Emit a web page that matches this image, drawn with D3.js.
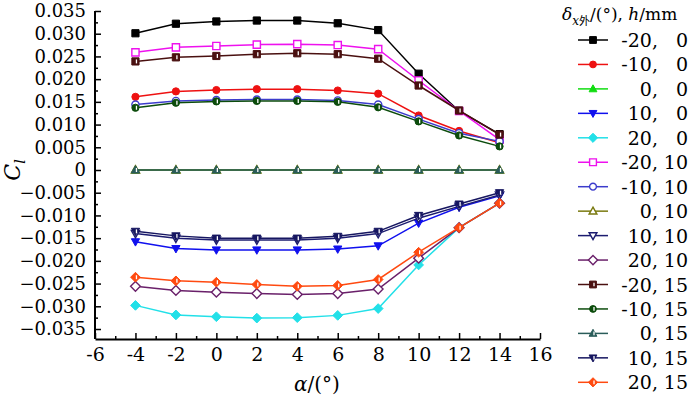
<!DOCTYPE html>
<html>
<head>
<meta charset="utf-8">
<script src="https://cdn.jsdelivr.net/npm/d3@7"></script>
<style>
  html, body { margin: 0; padding: 0; background: #fff; }
  svg { display: block; }
  svg text { font-family: "DejaVu Serif", serif; fill: #000; }
</style>
</head>
<body>
<svg id="chart" width="700" height="396"></svg>
<script>
// ---------- data ----------
const alpha = [-4, -2, 0, 2, 4, 6, 8, 10, 12, 14];

const deltaLabels = ["-20,", "-10,", "0,", "10,", "20,", "-20,", "-10,", "0,", "10,", "20,", "-20,", "-10,", "0,", "10,", "20,"];
const hLabels     = ["0", "0", "0", "0", "0", "10", "10", "10", "10", "10", "15", "15", "15", "15", "15"];

const s_m20_0  = [0.0301, 0.0322, 0.0327, 0.0329, 0.0329, 0.0323, 0.0308, 0.0212, 0.0130, 0.0079];
const s_m10_0  = [0.0161, 0.0173, 0.0176, 0.0178, 0.0178, 0.0175, 0.0168, 0.0120, 0.0086, 0.0060];
const s_0_0    = [0, 0, 0, 0, 0, 0, 0, 0, 0, 0];
const s_10_0   = [-0.0158, -0.0173, -0.0176, -0.0176, -0.0176, -0.0174, -0.0167, -0.0117, -0.0082, -0.0057];
const s_20_0   = [-0.0298, -0.0319, -0.0323, -0.0326, -0.0325, -0.0320, -0.0305, -0.0209, -0.0127, -0.0073];
const s_m20_10 = [0.0259, 0.0270, 0.0273, 0.0276, 0.0277, 0.0275, 0.0266, 0.0197, 0.0130, 0.0067];
const s_m10_10 = [0.0144, 0.0152, 0.0154, 0.0155, 0.0155, 0.0153, 0.0144, 0.0112, 0.0081, 0.0063];
const s_0_10   = [0, 0, 0, 0, 0, 0, 0, 0, 0, 0];
const s_10_10  = [-0.0140, -0.0150, -0.0154, -0.0154, -0.0154, -0.0150, -0.0140, -0.0106, -0.0080, -0.0055];
const s_20_10  = [-0.0256, -0.0265, -0.0269, -0.0272, -0.0274, -0.0272, -0.0262, -0.0194, -0.0127, -0.0073];
const s_m20_15 = [0.0239, 0.0248, 0.0251, 0.0255, 0.0257, 0.0255, 0.0245, 0.0186, 0.0131, 0.0078];
const s_m10_15 = [0.0137, 0.0148, 0.0151, 0.0152, 0.0152, 0.0150, 0.0138, 0.0107, 0.0076, 0.0052];
const s_0_15   = [0, 0, 0, 0, 0, 0, 0, 0, 0, 0];
const s_10_15  = [-0.0135, -0.0145, -0.0150, -0.0150, -0.0150, -0.0146, -0.0135, -0.0100, -0.0075, -0.0050];
const s_20_15  = [-0.0236, -0.0244, -0.0247, -0.0252, -0.0256, -0.0254, -0.0241, -0.0181, -0.0127, -0.0073];

const seriesValues = [s_m20_0, s_m10_0, s_0_0, s_10_0, s_20_0,
                      s_m20_10, s_m10_10, s_0_10, s_10_10, s_20_10,
                      s_m20_15, s_m10_15, s_0_15, s_10_15, s_20_15];

const colors  = ["#000000", "#ee1111", "#11dd11", "#1010ee", "#22e0e8",
                 "#ee11ee", "#3c3ccc", "#7a7a10", "#1c1c70", "#6a206a",
                 "#4a1010", "#0c4c0c", "#2a5c5a", "#161660", "#ff4a10"];
const shapes  = ["square", "circle", "up", "down", "diamond",
                 "square", "circle", "up", "down", "diamond",
                 "square", "circle", "up", "down", "diamond"];
const fills   = ["full", "full", "full", "full", "full",
                 "open", "open", "open", "open", "open",
                 "half", "half", "half", "half", "half"];

const xTicks = [-6, -4, -2, 0, 2, 4, 6, 8, 10, 12, 14, 16];
const yTicks = [-0.035, -0.030, -0.025, -0.020, -0.015, -0.010, -0.005, 0, 0.005, 0.010, 0.015, 0.020, 0.025, 0.030, 0.035];

// ---------- layout ----------
const SERIF = '"DejaVu Serif", serif';
const svg = d3.select("#chart");
svg.append("rect").attr("width", 700).attr("height", 396).attr("fill", "#fff");

const x = d3.scaleLinear().domain([-6, 16]).range([95, 540]);
const y = d3.scaleLinear().domain([-0.0372, 0.035]).range([339, 11]);

const FS = 18;

// minor ticks
const xMinor = d3.range(-5, 16, 2);
const yMinor = d3.range(-0.0325, 0.035, 0.005);

svg.append("g").attr("transform", `translate(0,${y.range()[0]})`)
  .call(d3.axisBottom(x).tickValues(xMinor).tickSize(-3).tickFormat(""))
  .call(g => g.select(".domain").remove())
  .selectAll("line").attr("stroke", "#000").attr("stroke-width", 1.5);

svg.append("g").attr("transform", `translate(${x.range()[0]},0)`)
  .call(d3.axisLeft(y).tickValues(yMinor).tickSize(-3).tickFormat(""))
  .call(g => g.select(".domain").remove())
  .selectAll("line").attr("stroke", "#000").attr("stroke-width", 1.5);

const xAxis = svg.append("g").attr("transform", `translate(0,${y.range()[0]})`)
  .call(d3.axisBottom(x).tickValues(xTicks).tickSizeInner(-6).tickSizeOuter(0).tickPadding(8).tickFormat(d => String(d)));
xAxis.attr("font-family", SERIF);
xAxis.select(".domain").attr("stroke", "#000").attr("stroke-width", 2);
xAxis.selectAll("line").attr("stroke", "#000").attr("stroke-width", 1.5);
xAxis.selectAll("text").attr("font-size", FS + 1).style("font-family", SERIF).attr("fill", "#000").attr("dy", "0.72em");

const yAxis = svg.append("g").attr("transform", `translate(${x.range()[0]},0)`)
  .call(d3.axisLeft(y).tickValues(yTicks).tickSizeInner(-6).tickSizeOuter(0).tickPadding(9)
    .tickFormat(d => Math.abs(d) < 1e-9 ? "0" : d3.format(".3f")(d)));
yAxis.attr("font-family", SERIF);
yAxis.select(".domain").attr("stroke", "#000").attr("stroke-width", 2)
  .attr("d", `M0,${y.range()[0]}V${y(0.035)}`);
yAxis.selectAll("line").attr("stroke", "#000").attr("stroke-width", 1.5);
yAxis.selectAll("text").attr("font-size", FS).style("font-family", SERIF).attr("fill", "#000");

// ---------- markers ----------
function markerPath(shape, s) {
  if (shape === "square") return `M${-s},${-s}H${s}V${s}H${-s}Z`;
  if (shape === "circle") return `M${s},0A${s},${s} 0 1,1 ${-s},0A${s},${s} 0 1,1 ${s},0Z`;
  if (shape === "up") return `M0,${-s * 1.2}L${s * 1.15},${s * 0.85}L${-s * 1.15},${s * 0.85}Z`;
  if (shape === "down") return `M0,${s * 1.2}L${s * 1.15},${-s * 0.85}L${-s * 1.15},${-s * 0.85}Z`;
  if (shape === "diamond") return `M0,${-s * 1.35}L${s * 1.35},0L0,${s * 1.35}L${-s * 1.35},0Z`;
  return "";
}
function drawMarker(g, cx, cy, i, s) {
  const c = colors[i];
  const f = fills[i];
  const p = markerPath(shapes[i], s);
  g.append("path").attr("d", p).attr("transform", `translate(${cx},${cy})`)
    .attr("fill", f === "open" ? "#fff" : c)
    .attr("stroke", c).attr("stroke-width", f === "open" ? 1.4 : 1);
  if (f === "half") {
    g.append("line").attr("x1", cx + 1).attr("x2", cx + 1)
      .attr("y1", cy - s * 0.55).attr("y2", cy + s * 0.55)
      .attr("stroke", "#fff").attr("stroke-width", 1.3);
  }
}

// ---------- series ----------
const line = d3.line().x(d => x(d[0])).y(d => y(d[1]));
const plot = svg.append("g");
seriesValues.forEach((vals, i) => {
  const g = plot.append("g");
  const pts = alpha.map((a, k) => [a, vals[k]]);
  g.append("path").attr("d", line(pts)).attr("fill", "none")
    .attr("stroke", colors[i]).attr("stroke-width", 1.5);
  pts.forEach(p => drawMarker(g, x(p[0]), y(p[1]), i, 3.6));
});

// ---------- axis titles ----------
const xt = svg.append("text").attr("x", 317).attr("y", 391).attr("text-anchor", "middle").attr("font-size", 20);
xt.append("tspan").attr("font-style", "italic").text("α");
xt.append("tspan").text("/(°)");

const yt = svg.append("text").attr("transform", "translate(20,170) rotate(-90)").attr("text-anchor", "middle").attr("font-size", 22);
yt.append("tspan").attr("font-style", "italic").text("C");
yt.append("tspan").attr("font-style", "italic").attr("font-size", 14).attr("dy", 5).text("l");

// ---------- legend ----------
const lt = svg.append("text").attr("x", 562).attr("y", 20).attr("font-size", 17);
lt.append("tspan").attr("font-style", "italic").text("δ");
lt.append("tspan").attr("font-style", "italic").attr("font-size", 12).attr("dy", 5).text("x");
lt.append("tspan").attr("font-size", 11).style("font-family", '"Noto Sans CJK SC", sans-serif').text("外");
lt.append("tspan").attr("dy", -5).text("/(°), ");
lt.append("tspan").attr("font-style", "italic").text("h");
lt.append("tspan").text("/mm");

const legend = svg.append("g");
deltaLabels.forEach((lab, i) => {
  const cy = 40 + i * 24.45;
  legend.append("line").attr("x1", 578).attr("x2", 608).attr("y1", cy).attr("y2", cy)
    .attr("stroke", colors[i]).attr("stroke-width", 1.5);
  drawMarker(legend, 593, cy, i, 3.4);
  legend.append("text").attr("x", 658).attr("y", cy + 7).attr("text-anchor", "end").attr("font-size", 19).text(lab);
  legend.append("text").attr("x", 688).attr("y", cy + 7).attr("text-anchor", "end").attr("font-size", 19).text(hLabels[i]);
});
</script>
</body>
</html>
